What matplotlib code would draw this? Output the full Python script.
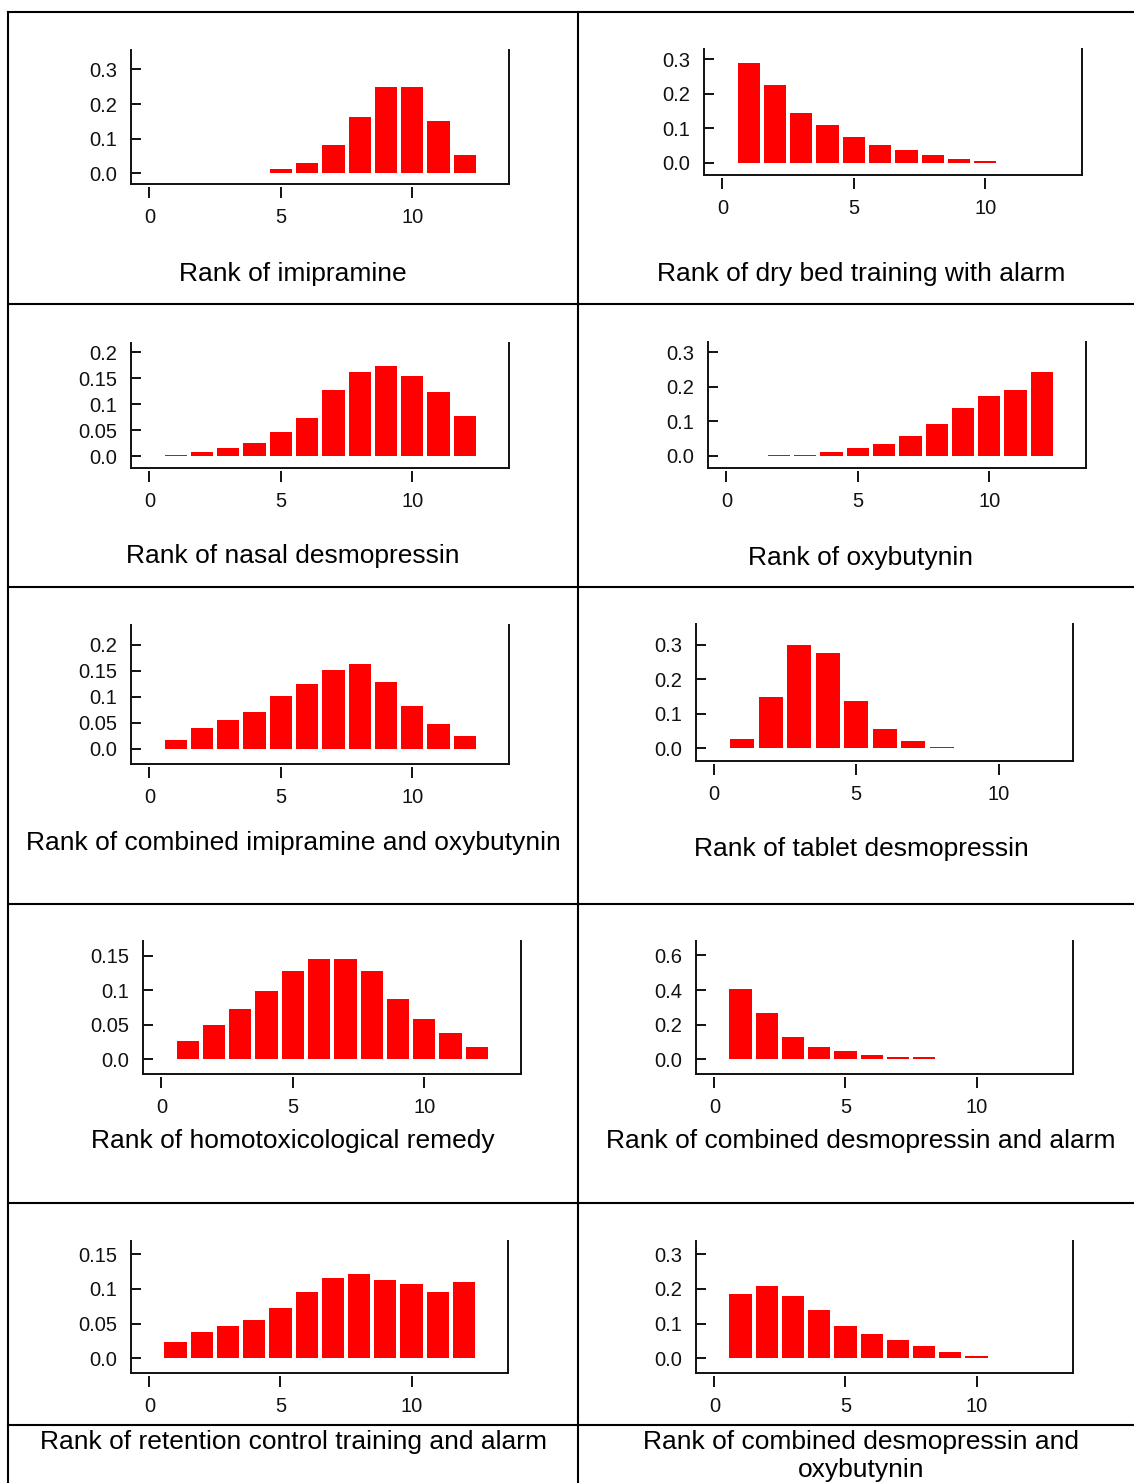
import numpy as np
import matplotlib
matplotlib.use('Agg')
import matplotlib.pyplot as plt
from matplotlib.lines import Line2D

plt.rcParams['font.family'] = ['Liberation Sans', 'DejaVu Sans']

W, H = 1134, 1483
ranks = np.arange(1, 13)

# probability of each rank, per treatment
imipramine = [0, 0, 0, 0, 0.0125, 0.030, 0.082, 0.163, 0.249, 0.249, 0.151, 0.053]
dry_bed = [0.289, 0.226, 0.145, 0.111, 0.076, 0.053, 0.036, 0.024, 0.0125, 0.007, 0, 0]
nasal_desmo = [0.002, 0.007, 0.015, 0.026, 0.046, 0.073, 0.127, 0.161, 0.173, 0.154, 0.123, 0.0765]
oxybutynin = [0, 0.0015, 0.0015, 0.011, 0.022, 0.034, 0.057, 0.092, 0.138, 0.173, 0.191, 0.243]
imip_oxy = [0.0167, 0.040, 0.055, 0.0705, 0.101, 0.124, 0.151, 0.163, 0.128, 0.082, 0.047, 0.024]
tablet_desmo = [0.027, 0.149, 0.300, 0.277, 0.137, 0.056, 0.021, 0.004, 0, 0, 0, 0]
homotox = [0.0265, 0.0497, 0.0728, 0.0989, 0.128, 0.145, 0.145, 0.128, 0.087, 0.058, 0.038, 0.018]
desmo_alarm = [0.406, 0.267, 0.129, 0.071, 0.048, 0.025, 0.0135, 0.0135, 0, 0, 0, 0]
retention = [0.023, 0.0376, 0.0463, 0.055, 0.0723, 0.0955, 0.1157, 0.1215, 0.1128, 0.107, 0.0955, 0.110]
desmo_oxy = [0.185, 0.208, 0.179, 0.138, 0.092, 0.069, 0.052, 0.035, 0.017, 0.006, 0, 0]

titles = ["Rank of imipramine", "Rank of dry bed training with alarm",
          "Rank of nasal desmopressin", "Rank of oxybutynin",
          "Rank of combined imipramine and oxybutynin", "Rank of tablet desmopressin",
          "Rank of homotoxicological remedy", "Rank of combined desmopressin and alarm",
          "Rank of retention control training and alarm",
          "Rank of combined desmopressin and\noxybutynin"]
series = [imipramine, dry_bed, nasal_desmo, oxybutynin, imip_oxy,
          tablet_desmo, homotox, desmo_alarm, retention, desmo_oxy]

ticks_03 = ([0, 0.1, 0.2, 0.3], ["0.0", "0.1", "0.2", "0.3"])
ticks_02 = ([0, 0.05, 0.1, 0.15, 0.2], ["0.0", "0.05", "0.1", "0.15", "0.2"])
ticks_015 = ([0, 0.05, 0.1, 0.15], ["0.0", "0.05", "0.1", "0.15"])
ticks_06 = ([0, 0.2, 0.4, 0.6], ["0.0", "0.2", "0.4", "0.6"])
yticks = [ticks_03, ticks_03, ticks_02, ticks_03, ticks_02,
          ticks_03, ticks_015, ticks_06, ticks_015, ticks_03]

# layout in pixels: left, right, top, bottom of each small plot
boxes = [(131, 509, 50, 184), (704, 1082, 49, 175),
         (131, 509, 343, 468), (708, 1086, 342, 468),
         (131, 509, 625, 764), (696, 1073, 624, 761),
         (143, 521, 941, 1074), (696, 1073, 941, 1074),
         (131, 508, 1241, 1373), (696, 1073, 1241, 1373)]
ylims = [(-0.031, 0.356), (-0.035, 0.33), (-0.023, 0.2175), (-0.035, 0.33),
         (-0.029, 0.238), (-0.037, 0.361), (-0.0213, 0.171), (-0.085, 0.683),
         (-0.0213, 0.169), (-0.042, 0.3375)]
xlims = [(-0.7, 13.68)] * 10
xlims[5] = (-0.62, 12.6)
title_pos = [(293, 274), (861, 274), (293, 556), (861, 558), (293, 843),
             (861, 849), (293, 1141), (861, 1141), (293, 1442), (861, 1456)]

fig = plt.figure(figsize=(W / 100, H / 100), dpi=100)

for i in range(10):
    l, r, t, b = boxes[i]
    ax = fig.add_axes([l / W, 1 - b / H, (r - l) / W, (b - t) / H])
    ax.bar(ranks, series[i], width=0.85, color='#ff0000',
           edgecolor='none', linewidth=0)
    ax.set_xlim(*xlims[i])
    ax.set_ylim(*ylims[i])
    ax.spines['top'].set_visible(False)
    for s in ('left', 'right', 'bottom'):
        ax.spines[s].set_linewidth(1.4)
        ax.spines[s].set_color('#111111')
    ax.set_yticks(yticks[i][0])
    ax.set_yticklabels(yticks[i][1])
    ax.tick_params(axis='y', direction='in', length=7, width=1.4, pad=10,
                   labelsize=14.5, colors='#111111')
    ax.tick_params(axis='x', bottom=False, labelbottom=False)
    # x ticks sit slightly below the bottom spine
    sec = ax.secondary_xaxis(-3.0 / (b - t))
    sec.spines['bottom'].set_visible(False)
    sec.set_xticks([0, 5, 10])
    sec.set_xticklabels(["0", "5", "10"])
    sec.tick_params(direction='out', length=8, width=1.4, pad=7,
                    labelsize=14.5, colors='#111111')
    tx, ty = title_pos[i]
    fig.text(tx / W, 1 - ty / H, titles[i], ha='center', va='center',
             fontsize=19, linespacing=1.2)

# table grid around the panels
def hline(y, x0=8, x1=W):
    fig.add_artist(Line2D([x0 / W, x1 / W], [1 - y / H, 1 - y / H],
                          color='black', lw=1.5))

def vline(x, y0=12, y1=H):
    fig.add_artist(Line2D([x / W, x / W], [1 - y0 / H, 1 - y1 / H],
                          color='black', lw=1.5))

for y in (12, 304, 587, 904, 1203, 1425):
    hline(y)
vline(8)
vline(578)

fig.savefig('out.png', dpi=100)
